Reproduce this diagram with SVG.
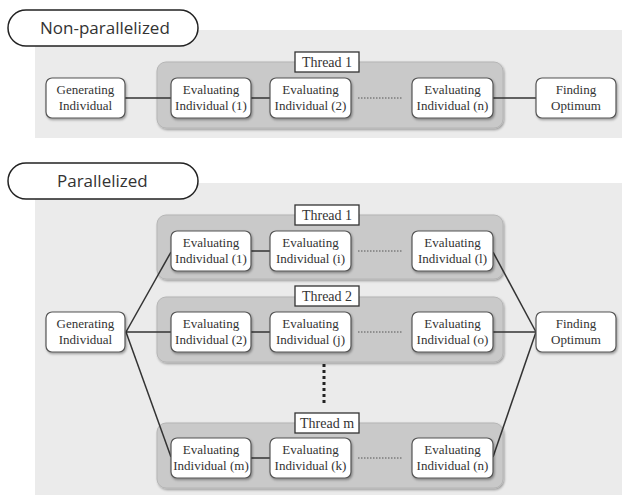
<svg xmlns="http://www.w3.org/2000/svg" width="622" height="495" viewBox="0 0 622 495">
<defs>
<filter id="sh" x="-10%" y="-10%" width="130%" height="140%">
<feDropShadow dx="1" dy="1.5" stdDeviation="1" flood-color="#000" flood-opacity="0.35"/>
</filter>
</defs>
<style>
.bg{fill:#ebebeb;}
.pill{fill:#fff;stroke:#222;stroke-width:1.5;}
.ptxt{font-family:"Open Sans","Liberation Sans",sans-serif;font-size:17px;fill:#333;}
.thr{fill:#c9c9c9;stroke:#b5b5b5;stroke-width:1;filter:url(#sh);}
.tl{fill:#fff;stroke:#333;stroke-width:1.3;}
.ttxt{font-family:"Liberation Serif","Times New Roman",serif;font-size:14px;fill:#333;text-anchor:middle;}
.nd{fill:#fff;stroke:#555;stroke-width:1.2;filter:url(#sh);}
.ntxt{font-family:"Liberation Serif","Times New Roman",serif;font-size:13px;fill:#333;text-anchor:middle;}
.ln{stroke:#333;stroke-width:1.5;fill:none;}
.dot{stroke:#555;stroke-width:1;stroke-dasharray:1.5 1.5;fill:none;}
.vdot{stroke:#222;stroke-width:3;stroke-dasharray:3 3;fill:none;}
</style>

<!-- Backgrounds -->
<rect class="bg" x="35" y="30" width="587" height="108"/>
<rect class="bg" x="35" y="183" width="587" height="312"/>

<g id="label-nonpar">
<rect class="pill" x="8" y="10" width="190" height="36" rx="18"/>
<text class="ptxt" x="40" y="34">Non-parallelized</text>
</g>
<g id="label-par">
<rect class="pill" x="8" y="163" width="190" height="36" rx="18"/>
<text class="ptxt" x="57" y="187">Parallelized</text>
</g>

<!-- Thread panels -->
<g id="thread-top">
<rect class="thr" x="157" y="62" width="346" height="66" rx="9"/>
<rect class="tl" x="295" y="52" width="64" height="20"/>
<text class="ttxt" x="327" y="67">Thread 1</text>
</g>
<g id="thread-p1">
<rect class="thr" x="157" y="215" width="346" height="64" rx="9"/>
<rect class="tl" x="295" y="205" width="64" height="20"/>
<text class="ttxt" x="327" y="220">Thread 1</text>
</g>
<g id="thread-p2">
<rect class="thr" x="157" y="297" width="346" height="65" rx="9"/>
<rect class="tl" x="295" y="286" width="64" height="20"/>
<text class="ttxt" x="327" y="301">Thread 2</text>
</g>
<g id="thread-pm">
<rect class="thr" x="157" y="423" width="346" height="65" rx="9"/>
<rect class="tl" x="295" y="413" width="64" height="20"/>
<text class="ttxt" x="327" y="428">Thread m</text>
</g>

<!-- Connectors -->
<g id="connectors">
<line class="ln" x1="125" y1="98" x2="171" y2="98"/>
<line class="ln" x1="251" y1="98" x2="270" y2="98"/>
<line class="ln" x1="493" y1="98" x2="536" y2="98"/>
<line class="dot" x1="358" y1="98" x2="402" y2="98"/>

<line class="ln" x1="126" y1="332" x2="171" y2="252"/>
<line class="ln" x1="126" y1="332" x2="171" y2="332"/>
<line class="ln" x1="126" y1="332" x2="171" y2="457"/>
<line class="ln" x1="251" y1="251" x2="270" y2="251"/>
<line class="ln" x1="251" y1="332" x2="270" y2="332"/>
<line class="ln" x1="251" y1="458" x2="270" y2="458"/>
<line class="dot" x1="358" y1="251" x2="402" y2="251"/>
<line class="dot" x1="358" y1="332" x2="402" y2="332"/>
<line class="dot" x1="358" y1="458" x2="402" y2="458"/>
<line class="ln" x1="493" y1="252" x2="536" y2="332"/>
<line class="ln" x1="493" y1="332" x2="536" y2="332"/>
<line class="ln" x1="493" y1="457" x2="536" y2="332"/>
<line class="vdot" x1="324" y1="364" x2="324" y2="406"/>
</g>

<!-- Top nodes -->
<g id="t-gen"><rect class="nd" x="46" y="78" width="79" height="40" rx="6"/><text class="ntxt" x="85.5" y="94">Generating</text><text class="ntxt" x="85.5" y="110">Individual</text></g>
<g id="t-e1"><rect class="nd" x="171" y="78" width="80" height="40" rx="6"/><text class="ntxt" x="211" y="94">Evaluating</text><text class="ntxt" x="211" y="110">Individual (1)</text></g>
<g id="t-e2"><rect class="nd" x="270" y="78" width="81" height="40" rx="6"/><text class="ntxt" x="310.5" y="94">Evaluating</text><text class="ntxt" x="310.5" y="110">Individual (2)</text></g>
<g id="t-en"><rect class="nd" x="412" y="78" width="81" height="40" rx="6"/><text class="ntxt" x="452.5" y="94">Evaluating</text><text class="ntxt" x="452.5" y="110">Individual (n)</text></g>
<g id="t-fin"><rect class="nd" x="536" y="78" width="80" height="40" rx="6"/><text class="ntxt" x="576" y="94">Finding</text><text class="ntxt" x="576" y="110">Optimum</text></g>

<!-- Bottom nodes -->
<g id="p-gen"><rect class="nd" x="46" y="312" width="79" height="40" rx="6"/><text class="ntxt" x="85.5" y="328">Generating</text><text class="ntxt" x="85.5" y="344">Individual</text></g>
<g id="p-fin"><rect class="nd" x="536" y="312" width="80" height="40" rx="6"/><text class="ntxt" x="576" y="328">Finding</text><text class="ntxt" x="576" y="344">Optimum</text></g>

<g id="p-e1"><rect class="nd" x="171" y="231" width="80" height="40" rx="6"/><text class="ntxt" x="211" y="247">Evaluating</text><text class="ntxt" x="211" y="263">Individual (1)</text></g>
<g id="p-ei"><rect class="nd" x="270" y="231" width="81" height="40" rx="6"/><text class="ntxt" x="310.5" y="247">Evaluating</text><text class="ntxt" x="310.5" y="263">Individual (i)</text></g>
<g id="p-el"><rect class="nd" x="412" y="231" width="81" height="40" rx="6"/><text class="ntxt" x="452.5" y="247">Evaluating</text><text class="ntxt" x="452.5" y="263">Individual (l)</text></g>

<g id="p-e2"><rect class="nd" x="171" y="312" width="80" height="40" rx="6"/><text class="ntxt" x="211" y="328">Evaluating</text><text class="ntxt" x="211" y="344">Individual (2)</text></g>
<g id="p-ej"><rect class="nd" x="270" y="312" width="81" height="40" rx="6"/><text class="ntxt" x="310.5" y="328">Evaluating</text><text class="ntxt" x="310.5" y="344">Individual (j)</text></g>
<g id="p-eo"><rect class="nd" x="412" y="312" width="81" height="40" rx="6"/><text class="ntxt" x="452.5" y="328">Evaluating</text><text class="ntxt" x="452.5" y="344">Individual (o)</text></g>

<g id="p-em"><rect class="nd" x="171" y="438" width="80" height="40" rx="6"/><text class="ntxt" x="211" y="454">Evaluating</text><text class="ntxt" x="211" y="470">Individual (m)</text></g>
<g id="p-ek"><rect class="nd" x="270" y="438" width="81" height="40" rx="6"/><text class="ntxt" x="310.5" y="454">Evaluating</text><text class="ntxt" x="310.5" y="470">Individual (k)</text></g>
<g id="p-en"><rect class="nd" x="412" y="438" width="81" height="40" rx="6"/><text class="ntxt" x="452.5" y="454">Evaluating</text><text class="ntxt" x="452.5" y="470">Individual (n)</text></g>
</svg>
